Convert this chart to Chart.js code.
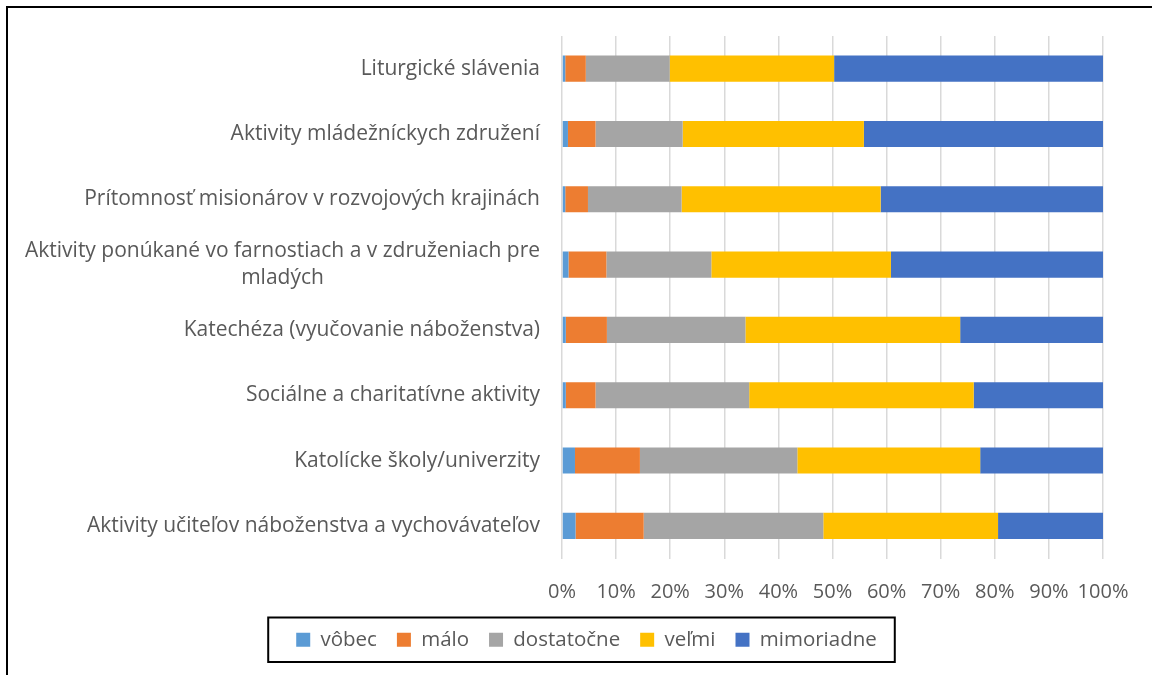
<!DOCTYPE html>
<html lang="sk">
<head>
<meta charset="UTF-8" />
<title>Hodnotenie aktivít</title>
<script src="https://cdn.jsdelivr.net/npm/chart.js"></script>
<style>
body {
    margin: 0;
    background: #fff;
    overflow: hidden;
}
.frame {
    position: absolute;
    left: 6px;
    top: 6px;
    width: 1200px;
    height: 720px;
    border-top: 2px solid #000;
    border-left: 2px solid #000;
}
.chart-box {
    position: absolute;
    left: 0;
    top: 0;
    width: 1144px;
    height: 667px;
}
</style>
</head>
<body>
<div class="frame">
  <div class="chart-box">
    <canvas id="activityChart"></canvas>
  </div>
</div>

<script>
// categories, top to bottom
const categories = [
  'Liturgické slávenia',
  'Aktivity mládežníckych združení',
  'Prítomnosť misionárov v rozvojových krajinách',
  ['Aktivity ponúkané vo farnostiach a v združeniach pre', 'mladých'],
  'Katechéza (vyučovanie náboženstva)',
  'Sociálne a charitatívne aktivity',
  'Katolícke školy/univerzity',
  'Aktivity učiteľov náboženstva a vychovávateľov'
];

// shares in %, same order as categories
const vobec      = [0.6, 1.1, 0.6, 1.2, 0.7, 0.7, 2.4, 2.5];
const malo       = [3.8, 5.1, 4.2, 7.0, 7.6, 5.5, 12.0, 12.6];
const dostatocne = [15.5, 16.1, 17.3, 19.4, 25.6, 28.4, 29.1, 33.2];
const velmi      = [30.4, 33.5, 36.8, 33.2, 39.7, 41.5, 33.8, 32.3];
const mimoriadne = [49.7, 44.2, 41.1, 39.2, 26.4, 23.9, 22.7, 19.4];

const seriesNames = ['vôbec', 'málo', 'dostatočne', 'veľmi', 'mimoriadne'];
const xTicks = [0, 10, 20, 30, 40, 50, 60, 70, 80, 90, 100];

const FONT = '"Open Sans", "DejaVu Sans", sans-serif';
const TEXT = '#595959';

// category labels: right aligned block, wrapped lines centred inside it
const categoryLabels = {
  id: 'categoryLabels',
  afterDraw(chart) {
    const ctx = chart.ctx;
    const yScale = chart.scales.y;
    const right = chart.chartArea.left - 22;
    ctx.save();
    ctx.font = '21px ' + FONT;
    ctx.fillStyle = TEXT;
    ctx.textBaseline = 'middle';
    ctx.textAlign = 'center';
    categories.forEach((lab, i) => {
      const lines = Array.isArray(lab) ? lab : [lab];
      const w = Math.max(...lines.map(l => ctx.measureText(l).width));
      const cx = right - w / 2;
      const yc = yScale.getPixelForTick(i);
      const lh = 27;
      lines.forEach((l, k) => {
        ctx.fillText(l, cx, yc + (k - (lines.length - 1) / 2) * lh);
      });
    });
    ctx.restore();
  }
};

// legend: nudge it under the middle of the page and draw a black frame round it
const LEGEND_SHIFT = 31;
const legendFrame = {
  id: 'legendFrame',
  afterLayout(chart) {
    const lg = chart.legend;
    lg.left += LEGEND_SHIFT;
    lg.right += LEGEND_SHIFT;
    (lg.legendHitBoxes || []).forEach(b => { b.left += LEGEND_SHIFT; });
  },
  afterDraw(chart) {
    const boxes = chart.legend.legendHitBoxes;
    if (!boxes || !boxes.length) return;
    const left = Math.min(...boxes.map(b => b.left)) - 28;
    const right = Math.max(...boxes.map(b => b.left + b.width)) + 18;
    const top = boxes[0].top - 12;
    const bottom = boxes[0].top + boxes[0].height + 12;
    const ctx = chart.ctx;
    ctx.save();
    ctx.strokeStyle = '#000';
    ctx.lineWidth = 2;
    ctx.strokeRect(left, top, right - left, bottom - top);
    ctx.restore();
  }
};

const colors = ['#5B9BD5', '#ED7D31', '#A5A5A5', '#FFC000', '#4472C4'];
const values = [vobec, malo, dostatocne, velmi, mimoriadne];

new Chart(document.getElementById('activityChart'), {
  type: 'bar',
  data: {
    labels: categories,
    datasets: seriesNames.map((name, i) => ({
      label: name,
      data: values[i],
      backgroundColor: colors[i],
      borderWidth: 0,
      categoryPercentage: 1.0,
      barPercentage: 0.4
    }))
  },
  options: {
    indexAxis: 'y',
    responsive: true,
    maintainAspectRatio: false,
    animation: false,
    layout: { padding: { top: 28, right: 49, left: 0, bottom: 15 } },
    scales: {
      x: {
        stacked: true,
        min: 0,
        max: 100,
        afterBuildTicks: s => { s.ticks = xTicks.map(v => ({ value: v })); },
        afterFit: s => { s.height -= 17; },
        grid: { color: '#D9D9D9', lineWidth: 1.5, drawTicks: false },
        border: { display: false },
        ticks: {
          callback: v => v + '%',
          color: TEXT,
          font: { family: FONT, size: 20 },
          padding: 22,
          autoSkip: false,
          maxRotation: 0
        }
      },
      y: {
        stacked: true,
        grid: { display: false },
        border: { display: false },
        ticks: { display: false },
        afterFit: s => { s.width = 554; }
      }
    },
    plugins: {
      legend: {
        position: 'bottom',
        labels: {
          boxWidth: 14,
          boxHeight: 14,
          color: TEXT,
          font: { family: FONT, size: 20.5 },
          padding: 20
        }
      },
      tooltip: { enabled: false }
    }
  },
  plugins: [categoryLabels, legendFrame]
});
</script>
</body>
</html>
